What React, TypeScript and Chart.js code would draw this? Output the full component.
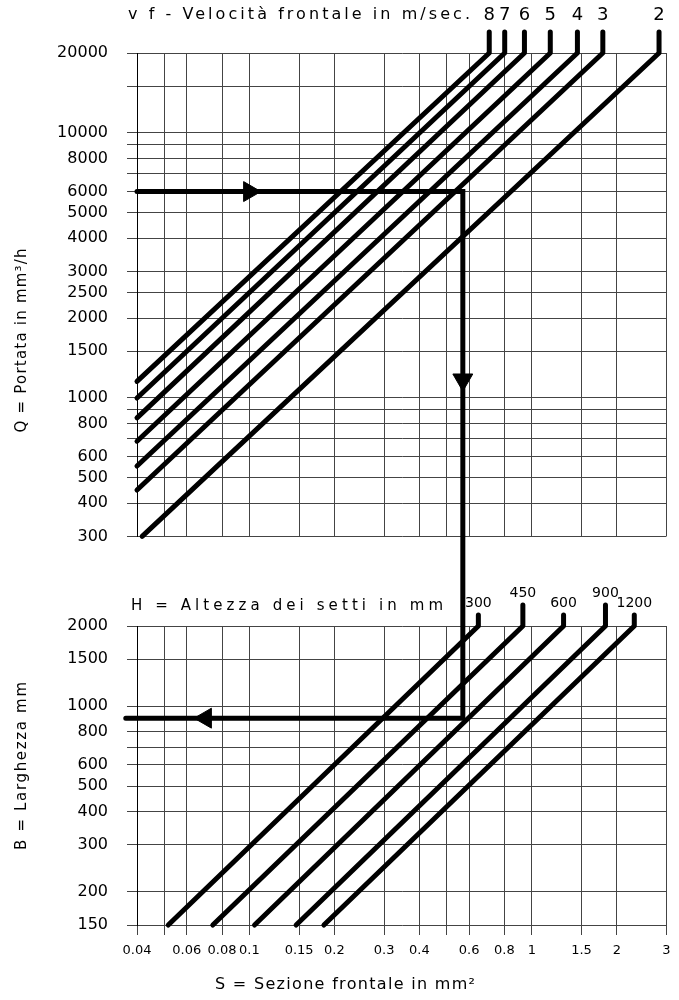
import React, { useEffect, useRef } from "react";
import { Chart, registerables } from "chart.js";

Chart.register(...registerables);

// ---------------- data ----------------
// frontal section S (m²) – shared horizontal axis
const S_TICKS = [0.04, 0.05, 0.06, 0.08, 0.1, 0.15, 0.2, 0.3, 0.4, 0.5, 0.6, 0.8, 1, 1.5, 2, 3];
const S_LABELS = [0.04, 0.06, 0.08, 0.1, 0.15, 0.2, 0.3, 0.4, 0.6, 0.8, 1, 1.5, 2, 3];
// flow Q – upper panel
const Q_TICKS = [20000, 15000, 10000, 9000, 8000, 7000, 6000, 5000, 4000, 3000, 2500, 2000, 1500, 1000, 900, 800, 700, 600, 500, 400, 300];
const Q_LABELS = [20000, 10000, 8000, 6000, 5000, 4000, 3000, 2500, 2000, 1500, 1000, 800, 600, 500, 400, 300];
// width B – lower panel
const B_TICKS = [2000, 1500, 1000, 900, 800, 700, 600, 500, 400, 300, 200, 150];
const B_LABELS = [2000, 1500, 1000, 800, 600, 500, 400, 300, 200, 150];

// frontal velocity lines (upper panel)
const VELOCITY_LABELS = ["8", "7", "6", "5", "4", "3", "2"];
const VELOCITY_S_START = [0.04, 0.04, 0.04, 0.04, 0.04, 0.04, 0.0417];
const VELOCITY_Q_START = [1153, 998, 840, 686, 553, 449, 300];
const VELOCITY_S_END = [0.707, 0.802, 0.942, 1.163, 1.451, 1.785, 2.823];
const VELOCITY_Q_END = 20000;
const VELOCITY_Q_FLAG = 24000;

// baffle height lines (lower panel)
const HEIGHT_LABELS = ["300", "450", "600", "900", "1200"];
const HEIGHT_S_START = [0.0516, 0.0742, 0.1043, 0.1464, 0.1836];
const HEIGHT_S_END = [0.647, 0.93, 1.296, 1.824, 2.307];
const HEIGHT_B_START = 150;
const HEIGHT_B_END = 2000;
const HEIGHT_B_FLAG = [2200, 2400, 2200, 2400, 2200];

// worked example path
const EXAMPLE_Q = 6000;
const EXAMPLE_S = 0.57;
const EXAMPLE_B = 900;
const EXAMPLE_S_START = 0.04;
const EXAMPLE_S_END = 0.0365;
const EXAMPLE_Q_BELOW = 150; // path continues down out of the Q panel
const EXAMPLE_B_ABOVE = 4000; // path enters the B panel from above
const ARROW_S = [0.1, 0.57, 0.07];
const ARROW_VALUE = [6000, 1170, 900];

const TITLE_V = "v f - Velocità frontale in m/sec.";
const TITLE_H = "H = Altezza dei setti in mm";
const TITLE_Q = "Q = Portata in mm³/h";
const TITLE_B = "B = Larghezza mm";
const TITLE_S = "S = Sezione frontale in mm²";

// ---------------- styling ----------------
const FAMILY = "'DejaVu Sans', 'Liberation Sans', sans-serif";
const INK = "#000";
const GRID = "#444";
const W = 679;
const TOP_H = 565;
const BOTTOM_H = 435;
const Y_TICK_FONT = { family: FAMILY, size: 16 };
const X_TICK_FONT = { family: FAMILY, size: 13 };

const setTicks = (values: number[]) => (scale: any) => {
  scale.ticks = values.map((v) => ({ value: v }));
};
const labelIf = (labels: number[]) => (value: any) =>
  labels.includes(Number(value)) ? String(value) : "";

type TextItem = {
  text: string;
  x: (a: any) => number;
  y: (a: any) => number;
  size: number;
  width: number;
  rotate?: number;
};

const textsPlugin = (items: TextItem[]) => ({
  id: "texts",
  afterDraw(chart: any) {
    const ctx = chart.ctx;
    const a = chart.chartArea;
    for (const it of items) {
      ctx.save();
      ctx.font = `${it.size}px ${FAMILY}`;
      ctx.fillStyle = INK;
      ctx.textBaseline = "middle";
      ctx.textAlign = "left";
      ctx.letterSpacing = "0px";
      const natural = ctx.measureText(it.text).width;
      const n = Array.from(it.text).length;
      const ls = n > 1 ? Math.max(0, (it.width - natural) / (n - 1)) : 0;
      ctx.letterSpacing = `${ls}px`;
      ctx.translate(it.x(a), it.y(a));
      if (it.rotate) ctx.rotate(it.rotate);
      ctx.fillText(it.text, 0, 0);
      ctx.restore();
    }
  },
});

const flagLabels = (offset: number, size: number) => ({
  id: "flagLabels",
  afterDatasetsDraw(chart: any) {
    const ctx = chart.ctx;
    chart.data.datasets.forEach((ds: any, i: number) => {
      if (!ds.flagLabel) return;
      const meta = chart.getDatasetMeta(i);
      const p = meta.data[meta.data.length - 1];
      ctx.save();
      ctx.font = `${size}px ${FAMILY}`;
      ctx.fillStyle = INK;
      ctx.textAlign = "center";
      ctx.textBaseline = "middle";
      ctx.fillText(ds.flagLabel, p.x, p.y - offset);
      ctx.restore();
    });
  },
});

const lineDs = (data: { x: number; y: number }[], flagLabel?: string, join = "round") => ({
  data,
  showLine: true,
  borderColor: INK,
  borderWidth: 5,
  borderCapStyle: "round",
  borderJoinStyle: join,
  pointRadius: 0,
  pointHoverRadius: 0,
  clip: false,
  flagLabel,
});

const arrowDs = (data: { x: number; y: number }[], rotation: number[]) => ({
  data,
  showLine: false,
  pointStyle: "triangle",
  pointRadius: 11.5,
  pointHoverRadius: 11.5,
  pointRotation: rotation,
  pointBackgroundColor: INK,
  pointBorderColor: INK,
  pointBorderWidth: 1,
  clip: false,
});

const xScale = (withLabels: boolean, height: number) => ({
  type: "logarithmic",
  min: S_TICKS[0],
  max: S_TICKS[S_TICKS.length - 1],
  afterBuildTicks: setTicks(S_TICKS),
  afterFit: (s: any) => {
    s.height = height;
  },
  ticks: {
    display: withLabels,
    autoSkip: false,
    maxRotation: 0,
    minRotation: 0,
    padding: 8,
    color: INK,
    font: X_TICK_FONT,
    callback: labelIf(S_LABELS),
  },
  grid: { color: GRID, lineWidth: 1, drawTicks: withLabels, tickLength: 10, tickColor: GRID },
  border: { display: false },
});

const yScale = (ticks: number[], labels: number[]) => ({
  type: "logarithmic",
  min: ticks[ticks.length - 1],
  max: ticks[0],
  afterBuildTicks: setTicks(ticks),
  afterFit: (s: any) => {
    s.width = 137;
  },
  ticks: { autoSkip: false, padding: 19, color: INK, font: Y_TICK_FONT, callback: labelIf(labels) },
  grid: { color: GRID, lineWidth: 1, tickLength: 10, tickColor: GRID },
  border: { display: true, color: INK, width: 1 },
});

const baseOptions = (padTop: number, scales: any) => ({
  responsive: false,
  animation: false,
  events: [],
  layout: { padding: { top: padTop, right: 8, left: 0, bottom: 0 } },
  plugins: { legend: { display: false }, tooltip: { enabled: false }, title: { display: false } },
  scales,
});

export default function App() {
  const topRef = useRef<HTMLCanvasElement | null>(null);
  const bottomRef = useRef<HTMLCanvasElement | null>(null);

  useEffect(() => {
    if (!topRef.current || !bottomRef.current) return;

    const velocitySets = VELOCITY_LABELS.map((lab, i) =>
      lineDs(
        [
          { x: VELOCITY_S_START[i], y: VELOCITY_Q_START[i] },
          { x: VELOCITY_S_END[i], y: VELOCITY_Q_END },
          { x: VELOCITY_S_END[i], y: VELOCITY_Q_FLAG },
        ],
        lab
      )
    );
    const topPath = lineDs(
      [
        { x: EXAMPLE_S_START, y: EXAMPLE_Q },
        { x: EXAMPLE_S, y: EXAMPLE_Q },
        { x: EXAMPLE_S, y: EXAMPLE_Q_BELOW },
      ],
      undefined,
      "miter"
    );
    const topArrows = arrowDs(
      [
        { x: ARROW_S[0], y: ARROW_VALUE[0] },
        { x: ARROW_S[1], y: ARROW_VALUE[1] },
      ],
      [90, 180]
    );

    const top = new Chart(topRef.current, {
      type: "scatter",
      data: { datasets: [...velocitySets, topPath, topArrows] as any },
      options: baseOptions(53, {
        x: xScale(false, TOP_H - 539),
        y: yScale(Q_TICKS, Q_LABELS),
      }) as any,
      plugins: [
        flagLabels(17, 18),
        textsPlugin([
          { text: TITLE_V, x: (a) => a.left - 9, y: (a) => a.top - 38, size: 16, width: 342 },
          { text: TITLE_Q, x: (a) => a.left - 115, y: (a) => a.bottom - 104, size: 15, width: 184, rotate: -Math.PI / 2 },
        ]),
      ] as any,
    });

    const heightSets = HEIGHT_LABELS.map((lab, i) =>
      lineDs(
        [
          { x: HEIGHT_S_START[i], y: HEIGHT_B_START },
          { x: HEIGHT_S_END[i], y: HEIGHT_B_END },
          { x: HEIGHT_S_END[i], y: HEIGHT_B_FLAG[i] },
        ],
        lab
      )
    );
    const bottomPath = lineDs(
      [
        { x: EXAMPLE_S, y: EXAMPLE_B_ABOVE },
        { x: EXAMPLE_S, y: EXAMPLE_B },
        { x: EXAMPLE_S_END, y: EXAMPLE_B },
      ],
      undefined,
      "miter"
    );
    const bottomArrow = arrowDs([{ x: ARROW_S[2], y: ARROW_VALUE[2] }], [270]);

    const bottom = new Chart(bottomRef.current, {
      type: "scatter",
      data: { datasets: [...heightSets, bottomPath, bottomArrow] as any },
      options: baseOptions(61, {
        x: xScale(true, 75),
        y: yScale(B_TICKS, B_LABELS),
      }) as any,
      plugins: [
        flagLabels(12, 14),
        textsPlugin([
          { text: TITLE_H, x: (a) => a.left - 6, y: (a) => a.top - 20, size: 15, width: 312 },
          { text: TITLE_B, x: (a) => a.left - 115, y: (a) => a.bottom - 75, size: 15, width: 168, rotate: -Math.PI / 2 },
          { text: TITLE_S, x: (a) => a.left + 78, y: (a) => a.bottom + 60, size: 16, width: 260 },
        ]),
      ] as any,
    });

    return () => {
      top.destroy();
      bottom.destroy();
    };
  }, []);

  return (
    <div style={{ position: "absolute", left: 0, top: 0, width: W, height: TOP_H + BOTTOM_H, background: "#fff" }}>
      <canvas
        ref={topRef}
        width={W}
        height={TOP_H}
        style={{ position: "absolute", left: 0, top: 0, width: W, height: TOP_H, display: "block" }}
      />
      <canvas
        ref={bottomRef}
        width={W}
        height={BOTTOM_H}
        style={{ position: "absolute", left: 0, top: TOP_H, width: W, height: BOTTOM_H, display: "block" }}
      />
    </div>
  );
}
